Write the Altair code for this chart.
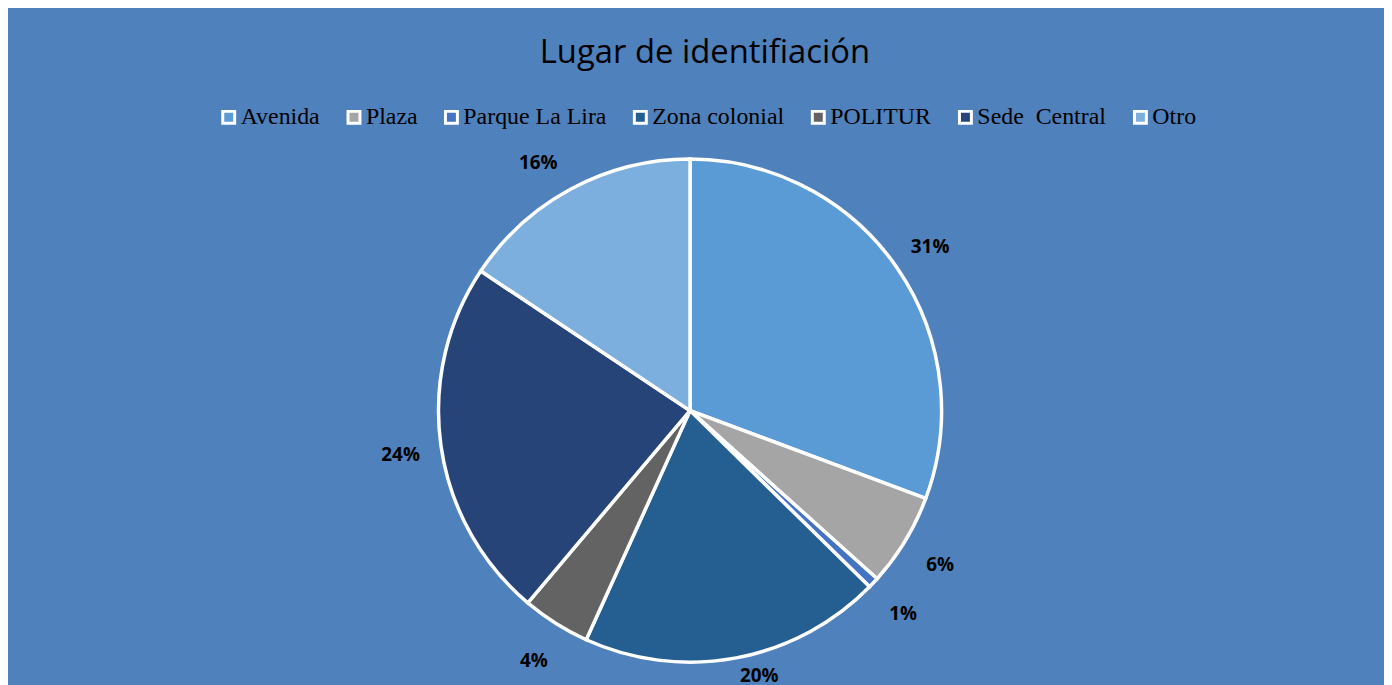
import altair as alt
import pandas as pd

categories = ["Avenida", "Plaza", "Parque La Lira", "Zona colonial", "POLITUR", "Sede\u00a0 Central", "Otro"]
values = [30.8, 6.0, 0.7, 19.5, 4.4, 23.3, 15.7]
labels = ["31%", "6%", "1%", "20%", "4%", "24%", "16%"]
colors = ["#5B9BD5", "#A5A5A5", "#4472C4", "#255E91", "#636363", "#264478", "#7CAFDD"]

df = pd.DataFrame({
    "cat": categories,
    "val": values,
    "lab": labels,
    "idx": list(range(len(categories))),
})

CX, CY, R = 686, 333, 253

base = alt.Chart(df).encode(
    theta=alt.Theta("val:Q", stack=True),
    order=alt.Order("idx:Q"),
)

pie = base.mark_arc(stroke="white", strokeWidth=3.5, outerRadius=R).encode(
    x=alt.value(CX),
    y=alt.value(CY),
    color=alt.Color(
        "cat:N",
        scale=alt.Scale(domain=categories, range=colors),
        sort=categories,
        legend=alt.Legend(
            title=None,
            orient="none",
            direction="horizontal",
            columns=7,
            legendX=210,
            legendY=26,
            symbolType="square",
            symbolSize=144,
            symbolStrokeColor="white",
            symbolStrokeWidth=3,
            labelFont="Liberation Serif",
            labelFontSize=24,
            labelColor="black",
            labelOffset=0,
            columnPadding=22,
            labelLimit=400,
        ),
    ),
)

text_style = dict(font="Open Sans", fontSize=19, fontWeight="bold", color="black",
                  align="center", baseline="middle")

text_outer = base.transform_calculate(
    t="datum.cat == 'Zona colonial' || datum.cat == 'Otro' ? '' : datum.lab"
).mark_text(radius=294, dy=3, **text_style).encode(
    x=alt.value(CX),
    y=alt.value(CY),
    detail="cat:N",
    text="t:N",
)

text_otro = base.transform_calculate(
    t="datum.cat == 'Otro' ? datum.lab : ''"
).mark_text(radius=294, dx=-14, dy=10, **text_style).encode(
    x=alt.value(CX),
    y=alt.value(CY),
    detail="cat:N",
    text="t:N",
)

text_inner = base.transform_calculate(
    t="datum.cat == 'Zona colonial' ? datum.lab : ''"
).mark_text(radius=270, dx=20, dy=2, **text_style).encode(
    x=alt.value(CX),
    y=alt.value(CY),
    detail="cat:N",
    text="t:N",
)

chart = (pie + text_outer + text_otro + text_inner).properties(
    width=1384,
    height=607,
    background="#4F81BD",
    padding={"top": 70, "left": 0, "right": 0, "bottom": 0},
    autosize=alt.AutoSizeParams(type="none"),
    title=alt.TitleParams(
        "Lugar de identifiación",
        font="Open Sans",
        fontSize=33,
        fontWeight="normal",
        color="black",
        anchor="middle",
        offset=10,
        dx=9,
    ),
).configure_view(stroke=None)

chart.save("out.html", embed_options={"renderer": "svg", "actions": False})
